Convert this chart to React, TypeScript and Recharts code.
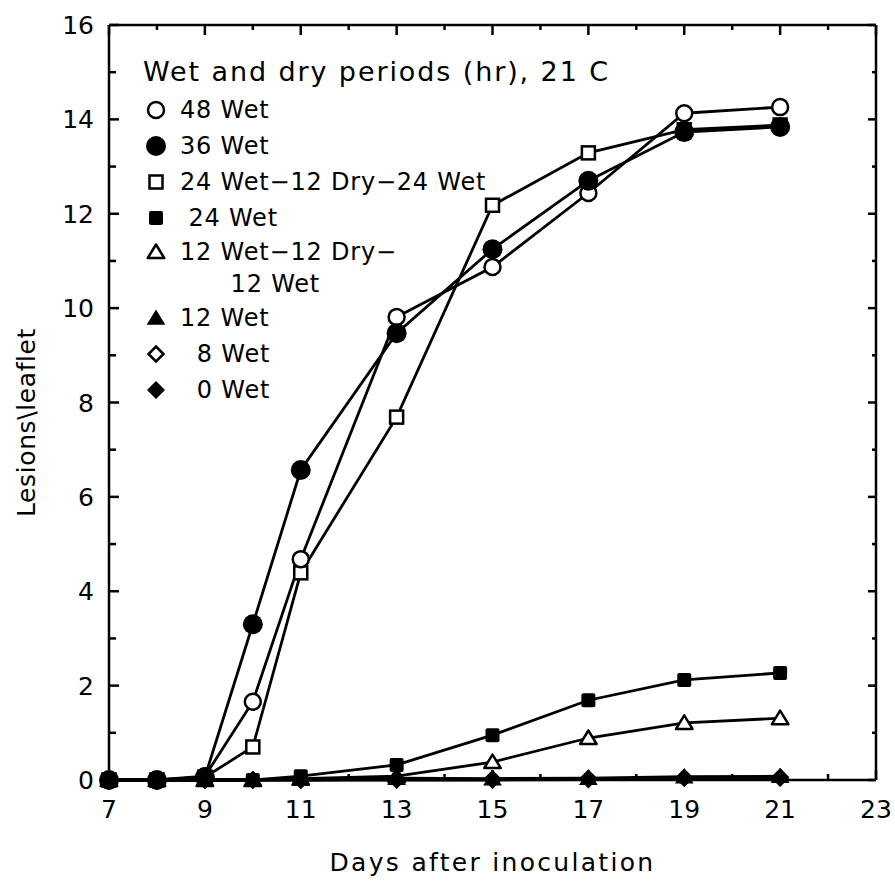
import React from 'react';
import { LineChart, Line, XAxis, YAxis, Legend, Label } from 'recharts';

// ---------- data ----------
const days = [7, 8, 9, 10, 11, 13, 15, 17, 19, 21];
const wet48 = [0, 0, 0.08, 1.66, 4.68, 9.81, 10.87, 12.44, 14.13, 14.26];
const wet36 = [0, 0, 0.06, 3.3, 6.57, 9.47, 11.25, 12.7, 13.73, 13.84];
const wet24dry12wet24 = [0, 0, 0.06, 0.7, 4.39, 7.69, 12.18, 13.29, 13.78, 13.88];
const wet24 = [0, 0, 0, 0, 0.08, 0.32, 0.95, 1.69, 2.12, 2.27];
const wet12dry12wet12 = [0, 0, 0, 0, 0.03, 0.08, 0.38, 0.89, 1.21, 1.31];
const wet12 = [0, 0, 0, 0, 0.02, 0.04, 0.03, 0.04, 0.07, 0.08];
const wet8 = [0, 0, 0, 0, 0, 0.02, 0.02, 0.03, 0.05, 0.06];
const wet0 = [0, 0, 0, 0, 0, 0, 0, 0.01, 0.04, 0.04];

const xTicks = [7, 8, 9, 10, 11, 12, 13, 14, 15, 16, 17, 18, 19, 20, 21, 22, 23];
const xLabelTicks = [7, 9, 11, 13, 15, 17, 19, 21, 23];
const yTicks = [0, 1, 2, 3, 4, 5, 6, 7, 8, 9, 10, 11, 12, 13, 14, 15, 16];
const yLabelTicks = [0, 2, 4, 6, 8, 10, 12, 14, 16];

const legendTitle = 'Wet and dry periods (hr), 21 C';
const xTitle = 'Days after inoculation';
const yTitle = 'Lesions\\leaflet';

type Kind =
  | 'openCircle'
  | 'filledCircle'
  | 'openSquare'
  | 'filledSquare'
  | 'openTriangle'
  | 'filledTriangle'
  | 'openDiamond'
  | 'filledDiamond';

// legend order
const series: { key: string; name: string; values: number[]; kind: Kind }[] = [
  { key: 'wet48', name: '48 Wet', values: wet48, kind: 'openCircle' },
  { key: 'wet36', name: '36 Wet', values: wet36, kind: 'filledCircle' },
  { key: 'wet24dry12wet24', name: '24 Wet\u221212 Dry\u221224 Wet', values: wet24dry12wet24, kind: 'openSquare' },
  { key: 'wet24', name: ' 24 Wet', values: wet24, kind: 'filledSquare' },
  { key: 'wet12dry12wet12', name: '12 Wet\u221212 Dry\u2212\n      12 Wet', values: wet12dry12wet12, kind: 'openTriangle' },
  { key: 'wet12', name: '12 Wet', values: wet12, kind: 'filledTriangle' },
  { key: 'wet8', name: '  8 Wet', values: wet8, kind: 'openDiamond' },
  { key: 'wet0', name: '  0 Wet', values: wet0, kind: 'filledDiamond' },
];

const data = days.map((d, i) => {
  const row: Record<string, number> = { day: d };
  series.forEach((s) => {
    row[s.key] = s.values[i];
  });
  return row;
});

// draw order: bottom series first, filled circles last (on top)
const drawOrder = ['wet8', 'wet12dry12wet12', 'wet12', 'wet0', 'wet24', 'wet24dry12wet24', 'wet48', 'wet36'];

const FONT = '"DejaVu Sans", sans-serif';
const INK = '#000';

// ---------- markers ----------
function Marker({ kind, cx, cy }: { kind: Kind; cx: number; cy: number }) {
  if (cx == null || cy == null || isNaN(cx) || isNaN(cy)) return null;
  const sw = 2.5;
  switch (kind) {
    case 'openCircle':
      return <circle cx={cx} cy={cy} r={8} fill="#fff" stroke={INK} strokeWidth={sw} />;
    case 'filledCircle':
      return <circle cx={cx} cy={cy} r={10} fill={INK} stroke="none" />;
    case 'openSquare':
      return <rect x={cx - 6.5} y={cy - 6.5} width={13} height={13} fill="#fff" stroke={INK} strokeWidth={sw} />;
    case 'filledSquare':
      return <rect x={cx - 7} y={cy - 7} width={14} height={14} rx={2} fill={INK} />;
    case 'openTriangle': {
      const h = 7.5;
      const pts = `${cx},${cy - h} ${cx + h * 1.1},${cy + h * 0.8} ${cx - h * 1.1},${cy + h * 0.8}`;
      return <polygon points={pts} fill="#fff" stroke={INK} strokeWidth={sw} strokeLinejoin="round" />;
    }
    case 'filledTriangle': {
      const h = 8.5;
      const pts = `${cx},${cy - h} ${cx + h * 1.1},${cy + h * 0.8} ${cx - h * 1.1},${cy + h * 0.8}`;
      return <polygon points={pts} fill={INK} />;
    }
    case 'openDiamond': {
      const h = 7.5;
      const pts = `${cx},${cy - h} ${cx + h},${cy} ${cx},${cy + h} ${cx - h},${cy}`;
      return <polygon points={pts} fill="#fff" stroke={INK} strokeWidth={sw} />;
    }
    case 'filledDiamond': {
      const h = 9;
      const pts = `${cx},${cy - h} ${cx + h},${cy} ${cx},${cy + h} ${cx - h},${cy}`;
      return <polygon points={pts} fill={INK} />;
    }
  }
  return null;
}

// ---------- ticks ----------
const tickText = { fontFamily: FONT, fontSize: 25, fill: INK };

const BottomTick = (props: any) => {
  const { x, y, payload } = props;
  const v = payload.value;
  const major = xLabelTicks.includes(v);
  return (
    <g>
      <line x1={x} y1={y} x2={x} y2={y - (major ? 10 : 6)} stroke={INK} strokeWidth={2.5} />
      {major && (
        <text x={x} y={y + 38} textAnchor="middle" {...tickText}>
          {v}
        </text>
      )}
    </g>
  );
};

const TopTick = (props: any) => {
  const { x, y, payload } = props;
  const major = xLabelTicks.includes(payload.value);
  return <line x1={x} y1={y} x2={x} y2={y + (major ? 10 : 5)} stroke={INK} strokeWidth={2.5} />;
};

const LeftTick = (props: any) => {
  const { x, y, payload } = props;
  const v = payload.value;
  const major = yLabelTicks.includes(v);
  return (
    <g>
      <line x1={x} y1={y} x2={x + (major ? 10 : 7)} y2={y} stroke={INK} strokeWidth={2.5} />
      {major && (
        <text x={x - 15} y={y + 9} textAnchor="end" {...tickText}>
          {v}
        </text>
      )}
    </g>
  );
};

const RightTick = (props: any) => {
  const { x, y, payload } = props;
  const major = yLabelTicks.includes(payload.value);
  return <line x1={x} y1={y} x2={x - (major ? 8 : 4)} y2={y} stroke={INK} strokeWidth={2.5} />;
};

// ---------- axis titles ----------
const XTitle = (props: any) => {
  const vb = props.viewBox || {};
  return (
    <text
      x={vb.x + vb.width / 2}
      y={vb.y + 91}
      textAnchor="middle"
      fontFamily={FONT}
      fontSize={25}
      letterSpacing={2.3}
      fill={INK}
    >
      {xTitle}
    </text>
  );
};

const YTitle = (props: any) => {
  const vb = props.viewBox || {};
  const x = vb.x - 4;
  const y = vb.y + vb.height / 2 + 20;
  return (
    <text
      x={x}
      y={y}
      transform={`rotate(-90, ${x}, ${y})`}
      textAnchor="middle"
      fontFamily={FONT}
      fontSize={25}
      letterSpacing={0.6}
      fill={INK}
    >
      {yTitle}
    </text>
  );
};

// ---------- legend ----------
const renderLegend = () => (
  <div style={{ fontFamily: FONT, color: INK }}>
    <div style={{ fontSize: 27, letterSpacing: 1.9, lineHeight: '36px', height: 36, whiteSpace: 'pre', marginBottom: 2 }}>
      {legendTitle}
    </div>
    {series.map((s) => {
      const multi = s.name.includes('\n');
      const lh = multi ? 32 : 36;
      const h = multi ? 64 : 36;
      return (
        <div key={s.key} style={{ display: 'flex', alignItems: 'flex-start', height: h }}>
          <svg width={26} height={lh} style={{ display: 'block', flex: 'none' }}>
            <Marker kind={s.kind} cx={13} cy={lh / 2} />
          </svg>
          <span
            style={{
              marginLeft: 11,
              fontSize: 24,
              letterSpacing: 0.8,
              lineHeight: `${lh}px`,
              whiteSpace: 'pre',
            }}
          >
            {s.name}
          </span>
        </div>
      );
    })}
  </div>
);

export default function App() {
  const ordered = drawOrder.map((k) => series.find((s) => s.key === k)!);
  return (
    <div style={{ width: 895, height: 882, overflow: 'hidden', background: '#fff' }}>
      <style>{'body{margin:0;background:#fff;}'}</style>
      <LineChart
        width={895}
        height={882}
        data={data}
        margin={{ top: 15, right: 9, bottom: 12, left: 39 }}
      >
        <XAxis
          xAxisId="bottom"
          dataKey="day"
          type="number"
          domain={[7, 23]}
          ticks={xTicks}
          interval={0}
          tickSize={0}
          tickMargin={0}
          tick={<BottomTick />}
          tickLine={false}
          axisLine={{ stroke: INK, strokeWidth: 2.5 }}
          height={90}
          orientation="bottom"
        >
          <Label content={<XTitle />} />
        </XAxis>
        <XAxis
          xAxisId="top"
          dataKey="day"
          type="number"
          domain={[7, 23]}
          allowDataOverflow
          ticks={xTicks}
          interval={0}
          tickSize={0}
          tickMargin={0}
          tick={<TopTick />}
          tickLine={false}
          axisLine={{ stroke: INK, strokeWidth: 2.5 }}
          height={10}
          orientation="top"
        />
        <YAxis
          yAxisId="left"
          type="number"
          domain={[0, 16]}
          ticks={yTicks}
          interval={0}
          tickSize={0}
          tickMargin={0}
          tick={<LeftTick />}
          tickLine={false}
          axisLine={{ stroke: INK, strokeWidth: 2.5 }}
          width={70}
          orientation="left"
        >
          <Label content={<YTitle />} />
        </YAxis>
        <YAxis
          yAxisId="right"
          type="number"
          domain={[0, 16]}
          allowDataOverflow
          ticks={yTicks}
          interval={0}
          tickSize={0}
          tickMargin={0}
          tick={<RightTick />}
          tickLine={false}
          axisLine={{ stroke: INK, strokeWidth: 2.5 }}
          width={10}
          orientation="right"
        />
        <Legend
          layout="horizontal"
          verticalAlign="middle"
          align="center"
          content={renderLegend}
          wrapperStyle={{ position: 'absolute', left: 143, top: 54, width: 480, height: 'auto', bottom: 'auto', right: 'auto' }}
        />
        {ordered.map((s) => (
          <Line
            key={s.key}
            xAxisId="bottom"
            yAxisId="left"
            dataKey={s.key}
            name={s.name}
            stroke={INK}
            strokeWidth={2.8}
            isAnimationActive={false}
            activeDot={false}
            dot={(p: any) => <Marker key={`${s.key}-${p.index}`} kind={s.kind} cx={p.cx} cy={p.cy} />}
          />
        ))}
      </LineChart>
    </div>
  );
}
